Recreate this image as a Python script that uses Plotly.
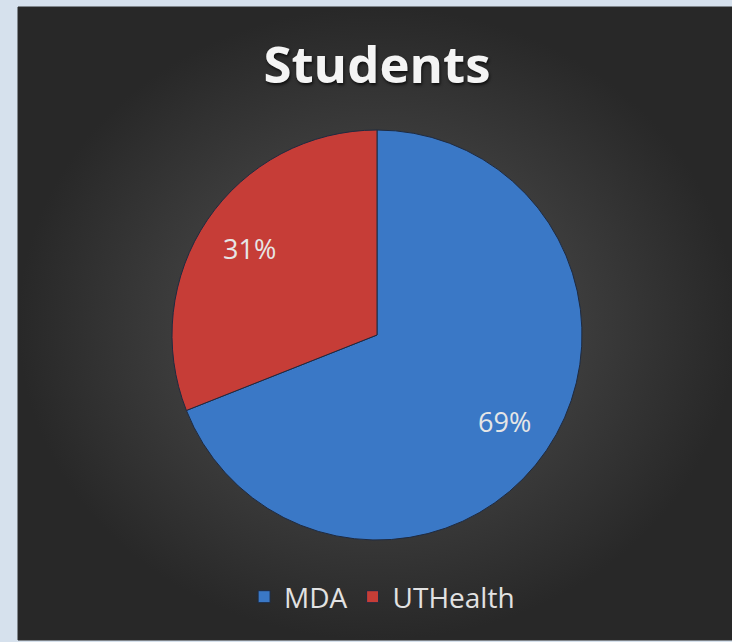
import math
import plotly.graph_objects as go

labels = ["MDA", "UTHealth"]
values = [69, 31]
colors = ["#3a78c6", "#c63d37"]
title_text = "Students"

W, H = 732, 642

fig = go.Figure()

# dark panel with radial gradient
px0, px1, py0, py1 = 18, 736, 7, 640
fig.add_trace(go.Scatter(
    x=[px0, px1, px1, px0, px0],
    y=[H - py0, H - py0, H - py1, H - py1, H - py0],
    mode="lines", fill="toself",
    line=dict(color="#2a2a2a", width=1),
    fillgradient=dict(type="radial", colorscale=[[0, "#565656"], [1, "#282828"]]),
    showlegend=False, hoverinfo="skip",
))

pie_x = [172 / W, 582 / W]
pie_y = [1 - 540 / H, 1 - 130 / H]
fig.add_trace(go.Pie(
    labels=labels, values=values, sort=False, direction="clockwise", rotation=0,
    marker=dict(colors=colors, line=dict(color="#1e2a40", width=1)),
    textinfo="none",
    domain=dict(x=pie_x, y=pie_y),
    hoverinfo="skip",
))

# percentage labels placed along each slice's mid-angle, derived from values
cx = (pie_x[0] + pie_x[1]) / 2 * W
cy = (1 - (pie_y[0] + pie_y[1]) / 2) * H
R = (pie_x[1] - pie_x[0]) * W / 2
total = sum(values)
cum = 0
for v in values:
    mid = (cum + v / 2) / total * 2 * math.pi
    cum += v
    ax = cx + 0.75 * R * math.sin(mid)
    ay = cy - 0.75 * R * math.cos(mid)
    fig.add_annotation(x=ax, y=H - ay, xref="x", yref="y", showarrow=False,
                       text=f"{round(v / total * 100)}%",
                       font=dict(family="Open Sans", size=27, color="#e6e6e6"))

fig.update_layout(
    width=W, height=H,
    margin=dict(l=0, r=0, t=0, b=0),
    paper_bgcolor="#d6e1ed",
    plot_bgcolor="rgba(0,0,0,0)",
    xaxis=dict(range=[0, W], visible=False, fixedrange=True),
    yaxis=dict(range=[0, H], visible=False, fixedrange=True),
    title=dict(text="<b>" + title_text + "</b>", x=0.515, xanchor="center", y=1 - 65 / H, yanchor="middle",
               font=dict(family="Open Sans", size=51, color="#f4f4f4",
                         shadow="1px 2px 3px rgba(0,0,0,0.7)")),
    legend=dict(orientation="h", x=0.522, xanchor="center", y=1 - 597 / H, yanchor="middle",
                font=dict(family="Open Sans", size=28, color="#e2e2e2"), bgcolor="rgba(0,0,0,0)",
                itemwidth=30),
)

fig.write_html("out.html", config={"displayModeBar": False},
               post_script="document.body.style.margin='0';")
